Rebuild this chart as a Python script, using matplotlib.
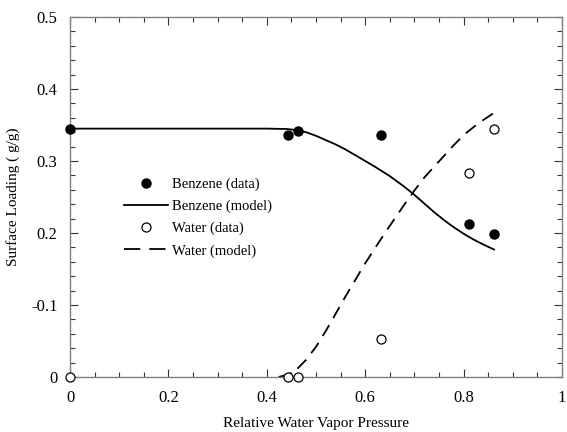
import matplotlib as mpl
mpl.use("Agg")
import matplotlib.pyplot as plt
from matplotlib.lines import Line2D
from matplotlib.ticker import MultipleLocator, FixedLocator, FixedFormatter

plt.rcParams['font.family'] = ['Liberation Serif', 'DejaVu Serif']

# measured points
benz_x = [0.0, 0.443, 0.463, 0.632, 0.81, 0.862]
benz_y = [0.345, 0.336, 0.341, 0.336, 0.213, 0.199]
water_x = [0.0, 0.443, 0.463, 0.632, 0.81, 0.862]
water_y = [0.0, 0.0, 0.0, 0.053, 0.283, 0.344]

# model curves
benz_mx = [0.0, 0.40, 0.44, 0.46, 0.48, 0.50, 0.52, 0.54, 0.56, 0.58, 0.60, 0.62,
           0.65, 0.68, 0.70, 0.72, 0.74, 0.76, 0.78, 0.80, 0.82, 0.84, 0.862]
benz_my = [0.345, 0.345, 0.3445, 0.343, 0.340, 0.335, 0.329, 0.323, 0.316, 0.308, 0.300, 0.292,
           0.279, 0.264, 0.253, 0.241, 0.229, 0.218, 0.208, 0.199, 0.191, 0.184, 0.177]
water_mx = [0.424, 0.44, 0.46, 0.48, 0.50, 0.52, 0.54, 0.56, 0.58, 0.60, 0.62, 0.64,
            0.66, 0.68, 0.70, 0.72, 0.74, 0.76, 0.78, 0.80, 0.82, 0.84, 0.862]
water_my = [0.0, 0.003, 0.010, 0.024, 0.042, 0.064, 0.088, 0.112, 0.135, 0.158, 0.179, 0.200,
            0.220, 0.240, 0.259, 0.277, 0.292, 0.307, 0.322, 0.336, 0.347, 0.357, 0.367]

ytick_vals = [0.0, 0.1, 0.2, 0.3, 0.4, 0.5]
ytick_labels = ['0', '-0.1', '0.2', '0.3', '0.4', '0.5']
xtick_vals = [0.0, 0.2, 0.4, 0.6, 0.8, 1.0]
xtick_labels = ['0', '0.2', '0.4', '0.6', '0.8', '1']
legend_labels = ['Benzene (data)', 'Benzene (model)', 'Water (data)', 'Water (model)']

fig = plt.figure(figsize=(5.67, 4.32), dpi=100)
ax = fig.add_axes([0.1235, 0.1273, 0.8677, 0.8333])

ax.plot(benz_x, benz_y, 'o', color='black', markersize=6.5, clip_on=False, zorder=4)
ax.plot(benz_mx, benz_my, '-', color='black', linewidth=1.3)
ax.plot(water_x, water_y, 'o', markerfacecolor='white', markeredgecolor='black',
        markeredgewidth=0.9, markersize=6.5, clip_on=False, zorder=4)
ax.plot(water_mx, water_my, '--', color='black', linewidth=1.3, dashes=(7, 4.5))

ax.set_xlim(0, 1)
ax.set_ylim(0, 0.5)

ax.xaxis.set_major_locator(FixedLocator(xtick_vals))
ax.xaxis.set_major_formatter(FixedFormatter(xtick_labels))
ax.xaxis.set_minor_locator(MultipleLocator(0.05))
ax.yaxis.set_major_locator(FixedLocator(ytick_vals))
ax.yaxis.set_major_formatter(FixedFormatter(ytick_labels))
ax.yaxis.set_minor_locator(MultipleLocator(0.02))

ax.tick_params(which='both', direction='in', top=True, right=True, labelsize=12, color='0.2')
ax.tick_params(which='major', length=6, width=0.8, pad=9)
ax.tick_params(which='minor', length=3.5, width=0.8)
for s in ax.spines.values():
    s.set_color('0.5')
    s.set_linewidth(1.0)

ax.set_xlabel('Relative Water Vapor Pressure', fontsize=11, labelpad=8)
ax.set_ylabel('Surface Loading ( g/g)', fontsize=11, labelpad=8)

# legend proxies (dash pattern tuned so two dashes fill the handle)
handles = [
    Line2D([], [], linestyle='none', marker='o', color='black', markersize=6.5),
    Line2D([], [], color='black', linewidth=1.3),
    Line2D([], [], linestyle='none', marker='o', markerfacecolor='white',
           markeredgecolor='black', markeredgewidth=0.9, markersize=6.5),
    Line2D([], [], color='black', linewidth=1.3, linestyle='--', dashes=(9, 5)),
]
ax.legend(handles, legend_labels, loc='center left', bbox_to_anchor=(0.095, 0.443),
          frameon=False, fontsize=10.5, handlelength=3.0, handletextpad=0.3,
          labelspacing=0.6, borderpad=0)

fig.savefig('out.png', dpi=100)
